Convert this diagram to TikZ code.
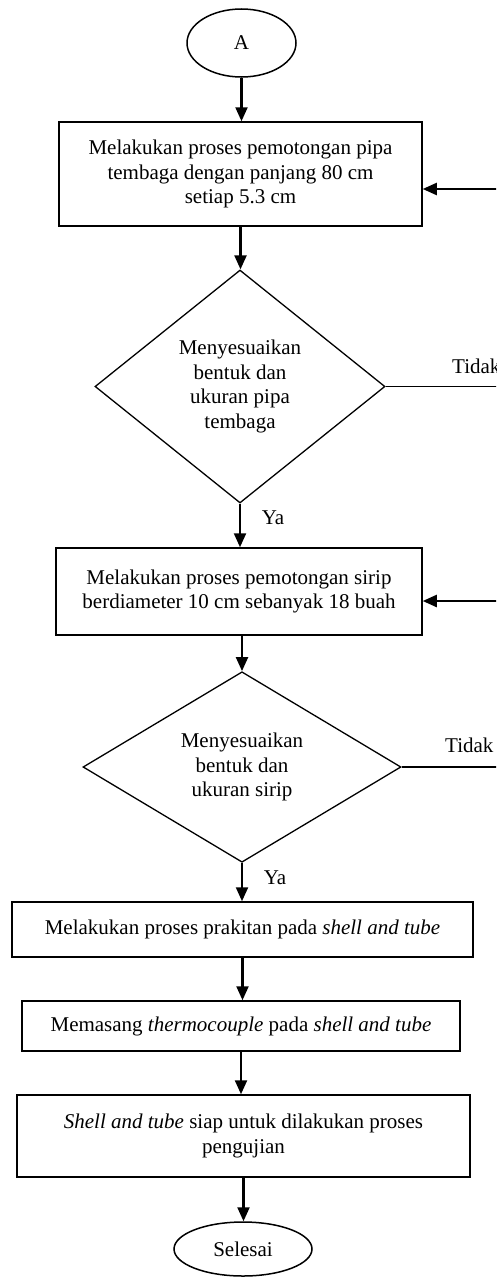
\documentclass[tikz,border=0pt]{standalone}
\usepackage{fontspec}
\setmainfont{Liberation Serif}
\usetikzlibrary{shapes.geometric,arrows.meta}
\begin{document}
\begin{tikzpicture}[x=1pt,y=-1pt,
  txt/.style={font=\fontsize{21}{24.5}\selectfont, align=center},
  term/.style={ellipse, draw, line width=1.5pt, inner sep=0pt, txt},
  procbox/.style={rectangle, draw, line width=1.5pt, inner sep=0pt, txt},
  decide/.style={diamond, draw, line width=1.3pt, inner sep=0pt, txt},
  flow/.style={line width=2.2pt, -{Triangle[length=14pt,width=12pt]}},
  plain/.style={line width=1.3pt}]
\useasboundingbox (0,0) rectangle (496,1282);
\clip (0,0) rectangle (496,1282);

\node[term, minimum width=109, minimum height=68] (A) at (241.5,43) {A};
\node[procbox, minimum width=363, minimum height=104] (b1) at (240.5,174)
  {Melakukan proses pemotongan pipa\\tembaga dengan panjang 80 cm\\setiap 5.3 cm};
\node[decide, minimum width=290, minimum height=233] (d1) at (240,386.5)
  {Menyesuaikan\\bentuk dan\\ukuran pipa\\tembaga};
\node[procbox, minimum width=366, minimum height=87] (b2) at (239,591.5)
  {Melakukan proses pemotongan sirip\\berdiameter 10 cm sebanyak 18 buah};
\node[decide, minimum width=318, minimum height=178] (d2) at (242,767)
  {Menyesuaikan\\bentuk dan\\ukuran sirip};
\node[procbox, minimum width=461, minimum height=55] (b3) at (242.5,929.5)
  {Melakukan proses prakitan pada \textit{shell and tube}};
\node[procbox, minimum width=438, minimum height=50] (b4) at (241,1026)
  {Memasang \textit{thermocouple} pada \textit{shell and tube}};
\node[procbox, minimum width=453, minimum height=82] (b5) at (243.5,1136)
  {\textit{Shell and tube} siap untuk dilakukan proses\\pengujian};
\node[term, minimum width=138, minimum height=54] (E) at (243,1249) {Selesai};

\node[txt, anchor=center] (ya1) at (273,518) {Ya};
\node[txt, anchor=center] (ya2) at (275,878) {Ya};
\node[txt, anchor=west, inner sep=0pt] (t1) at (452,366) {Tidak};
\node[txt, anchor=west, inner sep=0pt] (t2) at (445,745) {Tidak};

\draw[flow] (A.south) -- (A.south |- b1.north);
\draw[flow] (b1.south) -- (b1.south |- d1.north);
\draw[flow] (d1.south) -- (d1.south |- b2.north);
\draw[flow] (b2.south -| d2.north) -- (d2.north);
\draw[flow] (d2.south) -- (d2.south |- b3.north);
\draw[flow] (b3.south) -- (b3.south |- b4.north);
\draw[flow] (b4.south) -- (b4.south |- b5.north);
\draw[flow] (b5.south) -- (b5.south |- E.north);

\coordinate (r1) at (506,386.5);
\coordinate (r1t) at (506,189);
\coordinate (r2) at (506,767);
\coordinate (r2t) at (506,601);
\draw[plain] (d1.east) -- (r1) -- (r1t);
\draw[flow] (r1t) -- (r1t -| b1.east);
\draw[plain] (d2.east) -- (r2) -- (r2t);
\draw[flow] (r2t) -- (r2t -| b2.east);
\end{tikzpicture}
\end{document}
